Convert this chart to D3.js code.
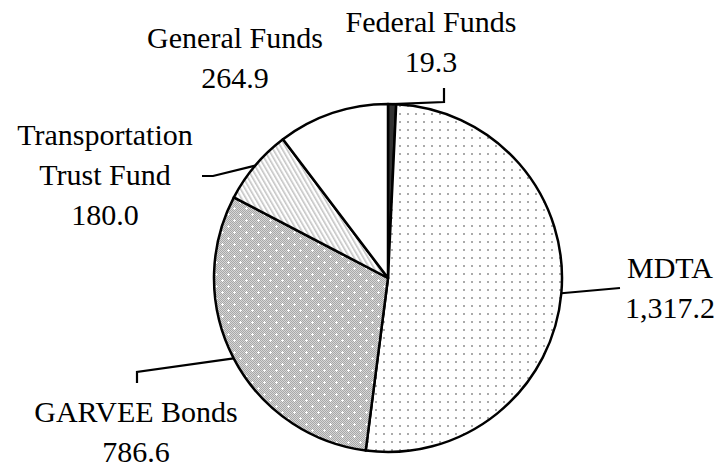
<!DOCTYPE html>
<html><head><meta charset="utf-8">
<script src="https://cdn.jsdelivr.net/npm/d3@7"></script>
</head><body style="margin:0">
<script>
const categories = ["Federal Funds", "MDTA", "GARVEE Bonds", "Transportation Trust Fund", "General Funds"];
const values = [19.3, 1317.2, 786.6, 180.0, 264.9];
const valueLabels = ["19.3", "1,317.2", "786.6", "180.0", "264.9"];
const labelLines = [["Federal Funds"], ["MDTA"], ["GARVEE Bonds"], ["Transportation", "Trust Fund"], ["General Funds"]];

const W = 720, H = 466;
const cx = 388, cy = 278, R = 174;

const svg = d3.select("body").append("svg").attr("width", W).attr("height", H).style("display", "block");
const defs = svg.append("defs");

// MDTA dots
const pDots = defs.append("pattern").attr("id", "dots").attr("patternUnits", "userSpaceOnUse")
  .attr("width", 8).attr("height", 8);
pDots.append("rect").attr("width", 8).attr("height", 8).attr("fill", "#fff");
pDots.append("rect").attr("x", 3).attr("y", 3).attr("width", 2).attr("height", 2).attr("fill", "#aaa");

// GARVEE checker with white dots
const pChk = defs.append("pattern").attr("id", "chk").attr("patternUnits", "userSpaceOnUse")
  .attr("width", 12).attr("height", 12);
pChk.append("rect").attr("width", 12).attr("height", 12).attr("fill", "#d6d6d6");
for (let i = 0; i < 12; i++) for (let j = 0; j < 12; j++) if ((i + j) % 2 === 0)
  pChk.append("rect").attr("x", i).attr("y", j).attr("width", 1).attr("height", 1).attr("fill", "#a8a8a8");
[[2, 2], [8, 8]].forEach(([x, y]) => {
  pChk.append("rect").attr("x", x - 1).attr("y", y).attr("width", 3).attr("height", 1).attr("fill", "#fff");
  pChk.append("rect").attr("x", x).attr("y", y - 1).attr("width", 1).attr("height", 3).attr("fill", "#fff");
});

// Transportation diagonal stripes
const pStr = defs.append("pattern").attr("id", "str").attr("patternUnits", "userSpaceOnUse")
  .attr("width", 4).attr("height", 4).attr("patternTransform", "rotate(-30)");
pStr.append("rect").attr("width", 4).attr("height", 4).attr("fill", "#fff");
pStr.append("rect").attr("width", 1.6).attr("height", 4).attr("fill", "#c4c4c4");

const fills = ["#333333", "url(#dots)", "url(#chk)", "url(#str)", "#ffffff"];

const pie = d3.pie().sort(null).value(d => d)(values);
const arc = d3.arc().innerRadius(0).outerRadius(R);
const g = svg.append("g").attr("transform", `translate(${cx},${cy})`);

g.selectAll("path.slice").data(pie).join("path")
  .attr("class", "slice")
  .attr("d", arc)
  .attr("fill", (d, i) => fills[i])
  .attr("stroke", "#000").attr("stroke-width", 2.5).attr("stroke-linejoin", "round");

// Labels (layout: centre positions & leader elbows)
const labelLayout = [
  { x: 431, y: 32, path: [[444, 102], [444, 88]] },
  { x: 670, y: 278, path: [[620, 288]] },
  { x: 136, y: 422, path: [[137, 372], [137, 383]] },
  { x: 105, y: 145, path: [[213, 176], [202, 176]] },
  { x: 235, y: 48, path: [] }
];
const lineH = 40;

pie.forEach((d, i) => {
  const L = labelLayout[i];
  const lines = labelLines[i].concat([valueLabels[i]]);
  lines.forEach((s, k) => {
    const t = svg.append("text")
      .attr("x", L.x).attr("y", L.y + k * lineH)
      .style("font-family", '"Liberation Serif"')
      .style("font-size", "30px")
      .text(s);
    const len = t.node().getComputedTextLength();
    t.attr("x", L.x - len / 2);
  });
  if (L.path.length) {
    const a = (d.startAngle + d.endAngle) / 2;
    const start = [cx + R * Math.sin(a), cy - R * Math.cos(a)];
    svg.append("path").attr("d", d3.line()([start].concat(L.path)))
      .attr("fill", "none").attr("stroke", "#000").attr("stroke-width", 2.2);
  }
});
</script>
</body></html>
